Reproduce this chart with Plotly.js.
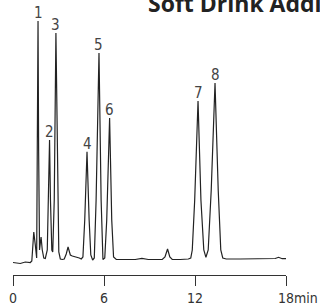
<!DOCTYPE html>
<html>
<head>
<meta charset="utf-8">
<script src="https://cdn.plot.ly/plotly-3.0.1.min.js"></script>
<style>html,body{margin:0;padding:0;background:#fff;}#chart{width:320px;height:306px;}</style>
</head>
<body>
<div id="chart"></div>
<script>
// Chromatogram trace: retention time (min) and detector signal (arbitrary units)
var time = [0.00,0.48,0.81,1.14,1.24,1.37,1.47,1.56,1.60,1.65,1.69,1.75,1.85,1.93,2.03,2.13,2.26,2.35,2.41,2.47,2.56,2.62,2.72,2.83,2.94,3.02,3.12,3.25,3.38,3.51,3.63,3.71,3.78,3.91,4.04,4.22,4.37,4.50,4.61,4.73,4.88,5.02,5.13,5.25,5.36,5.48,5.67,5.81,5.93,6.05,6.18,6.37,6.51,6.63,6.81,7.40,8.06,8.50,8.92,9.38,9.84,10.02,10.19,10.34,10.50,11.03,11.56,11.72,11.82,11.98,12.20,12.39,12.58,12.72,12.87,13.07,13.32,13.53,13.70,13.83,14.06,14.98,16.30,17.29,17.51,17.75,18.00];
var signal = [-2.5,-3.5,-2,-2.5,-1,28,15,2,110,239,110,10,23,10,2,1.5,10,80,120,60,10,8,60,227,60,8,1,0.5,1,6,13,9,5,4,3.5,3,2,1,3,40,108.3,40,5,0,2,60,207,60,0.5,2,40,142,40,3,0.5,0.5,0.5,1.7,0.5,0.5,0.5,3,11,3,0.5,0.5,1,2,10,60,159,60,10,2.7,10,70,177,70,10,2,1,1,1,1.5,2.7,1.3,1.3];

// Numbered peaks: label, apex time, apex signal
var peakLabels = ['1','2','3','4','5','6','7','8'];
var peakTimes  = [1.65,2.41,2.83,4.88,5.67,6.37,12.20,13.32];
var peakHeights= [239,120,227,108.3,207,142,159,177];

var tickValues = [0,6,12,18];
var tickLabels = ['0','6','12','18'];
var unitLabel = 'min';
var chartTitle = 'Soft Drink Additives';

var labelFont = {family:'DejaVu Sans Condensed, DejaVu Sans, sans-serif', size:15, color:'#444'};

var annotations = peakLabels.map(function(l,i){
  return {x:peakTimes[i], y:peakHeights[i], xref:'x', yref:'y', text:l, showarrow:false,
          xanchor:'center', yanchor:'bottom', yshift:-3, font:labelFont};
});
annotations.push({x:18, y:0, xref:'x', yref:'paper', text:unitLabel, showarrow:false,
  xanchor:'left', yanchor:'top', xshift:6, yshift:-13,
  font:{family:'DejaVu Sans Condensed, DejaVu Sans, sans-serif', size:14, color:'#333'}});
annotations.push({x:0.488, y:1, xref:'paper', yref:'paper', text:'<b>'+chartTitle+'</b>', showarrow:false,
  xanchor:'left', yanchor:'top', yshift:15,
  font:{family:'Open Sans, sans-serif', size:23, color:'#222'}});

var trace = {x:time, y:signal, type:'scatter', mode:'lines',
  line:{color:'#222', width:1.2, shape:'linear'}, hoverinfo:'skip'};

var layout = {
  width:320, height:306,
  margin:{l:13, r:34, t:0, b:31, pad:0},
  paper_bgcolor:'#fff', plot_bgcolor:'#fff',
  showlegend:false,
  xaxis:{range:[0,18], showgrid:false, zeroline:false, showline:true, linecolor:'#333', linewidth:1,
    ticks:'outside', ticklen:10, tickcolor:'#333', tickwidth:1,
    tickvals:tickValues, ticktext:tickLabels,
    tickfont:{family:'DejaVu Sans Condensed, DejaVu Sans, sans-serif', size:14, color:'#333'}},
  yaxis:{range:[-15,260], visible:false, showgrid:false, zeroline:false},
  annotations:annotations
};

Plotly.newPlot('chart', [trace], layout, {staticPlot:true, displayModeBar:false});
</script>
</body>
</html>
